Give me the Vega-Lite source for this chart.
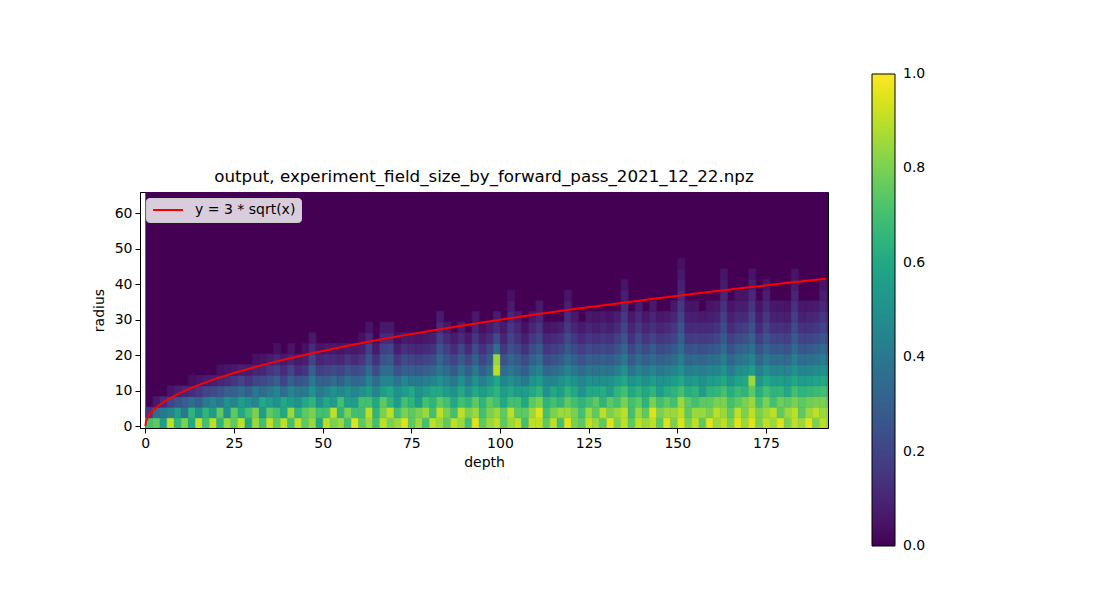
{
  "$schema": "https://vega.github.io/schema/vega-lite/v6.json",
  "width": 688,
  "height": 236,
  "autosize": "none",
  "padding": {"left": 140, "top": 192, "right": 284, "bottom": 185},
  "background": "white",
  "title": {
    "text": "output, experiment_field_size_by_forward_pass_2021_12_22.npz",
    "fontSize": 16.7,
    "fontWeight": "normal",
    "anchor": "middle",
    "baseline": "alphabetic",
    "offset": 8,
    "dy": 133,
    "color": "black"
  },
  "resolve": {"scale": {"stroke": "independent"}},
  "layer": [
    {
      "data": {"values": [{}]},
      "mark": {"type": "rect", "fill": "#440154", "clip": true},
      "encoding": {
        "x": {"datum": 0, "type": "quantitative"},
        "x2": {"datum": 194},
        "y": {"datum": -0.5, "type": "quantitative"},
        "y2": {"datum": 66}
      }
    },
    {
      "data": {"values": [
        {"d":1,"r":1,"v":0.7},{"d":1,"r":4,"v":0.15},
        {"d":3,"r":1,"v":0.75},{"d":3,"r":4,"v":0.35},{"d":3,"r":7,"v":0.06},
        {"d":5,"r":1,"v":0.55},{"d":5,"r":4,"v":0.4},{"d":5,"r":7,"v":0.12},
        {"d":7,"r":1,"v":0.9},{"d":7,"r":4,"v":0.45},{"d":7,"r":7,"v":0.2},{"d":7,"r":10,"v":0.05},
        {"d":9,"r":1,"v":0.65},{"d":9,"r":4,"v":0.55},{"d":9,"r":7,"v":0.25},{"d":9,"r":10,"v":0.08},
        {"d":11,"r":1,"v":0.8},{"d":11,"r":4,"v":0.4},{"d":11,"r":7,"v":0.3},{"d":11,"r":10,"v":0.1},
        {"d":13,"r":1,"v":0.6},{"d":13,"r":4,"v":0.65},{"d":13,"r":7,"v":0.35},{"d":13,"r":10,"v":0.12},{"d":13,"r":13,"v":0.04},
        {"d":15,"r":1,"v":0.9},{"d":15,"r":4,"v":0.5},{"d":15,"r":7,"v":0.3},{"d":15,"r":10,"v":0.15},{"d":15,"r":13,"v":0.05},
        {"d":17,"r":1,"v":0.7},{"d":17,"r":4,"v":0.65},{"d":17,"r":7,"v":0.4},{"d":17,"r":10,"v":0.2},{"d":17,"r":13,"v":0.07},
        {"d":19,"r":1,"v":0.9},{"d":19,"r":4,"v":0.55},{"d":19,"r":7,"v":0.45},{"d":19,"r":10,"v":0.22},{"d":19,"r":13,"v":0.08},
        {"d":21,"r":1,"v":0.65},{"d":21,"r":4,"v":0.75},{"d":21,"r":7,"v":0.4},{"d":21,"r":10,"v":0.25},{"d":21,"r":13,"v":0.1},{"d":21,"r":16,"v":0.04},
        {"d":23,"r":1,"v":0.85},{"d":23,"r":4,"v":0.5},{"d":23,"r":7,"v":0.5},{"d":23,"r":10,"v":0.3},{"d":23,"r":13,"v":0.12},{"d":23,"r":16,"v":0.05},
        {"d":25,"r":1,"v":0.75},{"d":25,"r":4,"v":0.75},{"d":25,"r":7,"v":0.45},{"d":25,"r":10,"v":0.3},{"d":25,"r":13,"v":0.15},{"d":25,"r":16,"v":0.06},
        {"d":27,"r":1,"v":0.9},{"d":27,"r":4,"v":0.6},{"d":27,"r":7,"v":0.55},{"d":27,"r":10,"v":0.35},{"d":27,"r":13,"v":0.2},{"d":27,"r":16,"v":0.08},
        {"d":29,"r":1,"v":0.6},{"d":29,"r":4,"v":0.7},{"d":29,"r":7,"v":0.5},{"d":29,"r":10,"v":0.3},{"d":29,"r":13,"v":0.15},{"d":29,"r":16,"v":0.07},
        {"d":31,"r":1,"v":0.85},{"d":31,"r":4,"v":0.8},{"d":31,"r":7,"v":0.45},{"d":31,"r":10,"v":0.4},{"d":31,"r":13,"v":0.2},{"d":31,"r":16,"v":0.1},{"d":31,"r":19,"v":0.04},
        {"d":33,"r":1,"v":0.7},{"d":33,"r":4,"v":0.55},{"d":33,"r":7,"v":0.6},{"d":33,"r":10,"v":0.35},{"d":33,"r":13,"v":0.22},{"d":33,"r":16,"v":0.1},{"d":33,"r":19,"v":0.05},
        {"d":35,"r":1,"v":0.9},{"d":35,"r":4,"v":0.75},{"d":35,"r":7,"v":0.55},{"d":35,"r":10,"v":0.4},{"d":35,"r":13,"v":0.25},{"d":35,"r":16,"v":0.15},{"d":35,"r":19,"v":0.07},
        {"d":37,"r":1,"v":0.75},{"d":37,"r":4,"v":0.7},{"d":37,"r":7,"v":0.5},{"d":37,"r":10,"v":0.45},{"d":37,"r":13,"v":0.3},{"d":37,"r":16,"v":0.18},{"d":37,"r":19,"v":0.1},{"d":37,"r":22,"v":0.04},
        {"d":39,"r":1,"v":0.9},{"d":39,"r":4,"v":0.6},{"d":39,"r":7,"v":0.6},{"d":39,"r":10,"v":0.35},{"d":39,"r":13,"v":0.2},{"d":39,"r":16,"v":0.12},{"d":39,"r":19,"v":0.06},
        {"d":41,"r":1,"v":0.7},{"d":41,"r":4,"v":0.85},{"d":41,"r":7,"v":0.55},{"d":41,"r":10,"v":0.45},{"d":41,"r":13,"v":0.3},{"d":41,"r":16,"v":0.2},{"d":41,"r":19,"v":0.1},{"d":41,"r":22,"v":0.05},
        {"d":43,"r":1,"v":0.9},{"d":43,"r":4,"v":0.65},{"d":43,"r":7,"v":0.5},{"d":43,"r":10,"v":0.4},{"d":43,"r":13,"v":0.25},{"d":43,"r":16,"v":0.12},{"d":43,"r":19,"v":0.06},
        {"d":45,"r":1,"v":0.75},{"d":45,"r":4,"v":0.75},{"d":45,"r":7,"v":0.6},{"d":45,"r":10,"v":0.4},{"d":45,"r":13,"v":0.28},{"d":45,"r":16,"v":0.15},{"d":45,"r":19,"v":0.08},{"d":45,"r":22,"v":0.04},
        {"d":47,"r":1,"v":0.85},{"d":47,"r":4,"v":0.8},{"d":47,"r":7,"v":0.65},{"d":47,"r":10,"v":0.5},{"d":47,"r":13,"v":0.4},{"d":47,"r":16,"v":0.3},{"d":47,"r":19,"v":0.2},{"d":47,"r":22,"v":0.12},{"d":47,"r":25,"v":0.06},
        {"d":49,"r":1,"v":0.6},{"d":49,"r":4,"v":0.7},{"d":49,"r":7,"v":0.5},{"d":49,"r":10,"v":0.4},{"d":49,"r":13,"v":0.3},{"d":49,"r":16,"v":0.18},{"d":49,"r":19,"v":0.1},{"d":49,"r":22,"v":0.05},
        {"d":51,"r":1,"v":0.9},{"d":51,"r":4,"v":0.7},{"d":51,"r":7,"v":0.6},{"d":51,"r":10,"v":0.45},{"d":51,"r":13,"v":0.3},{"d":51,"r":16,"v":0.2},{"d":51,"r":19,"v":0.12},{"d":51,"r":22,"v":0.06},
        {"d":53,"r":1,"v":0.8},{"d":53,"r":4,"v":0.9},{"d":53,"r":7,"v":0.55},{"d":53,"r":10,"v":0.5},{"d":53,"r":13,"v":0.35},{"d":53,"r":16,"v":0.22},{"d":53,"r":19,"v":0.12},{"d":53,"r":22,"v":0.06},
        {"d":55,"r":1,"v":0.85},{"d":55,"r":4,"v":0.65},{"d":55,"r":7,"v":0.7},{"d":55,"r":10,"v":0.45},{"d":55,"r":13,"v":0.3},{"d":55,"r":16,"v":0.2},{"d":55,"r":19,"v":0.1},{"d":55,"r":22,"v":0.05},
        {"d":57,"r":1,"v":0.7},{"d":57,"r":4,"v":0.8},{"d":57,"r":7,"v":0.55},{"d":57,"r":10,"v":0.5},{"d":57,"r":13,"v":0.38},{"d":57,"r":16,"v":0.25},{"d":57,"r":19,"v":0.15},{"d":57,"r":22,"v":0.07},
        {"d":59,"r":1,"v":0.95},{"d":59,"r":4,"v":0.7},{"d":59,"r":7,"v":0.55},{"d":59,"r":10,"v":0.45},{"d":59,"r":13,"v":0.32},{"d":59,"r":16,"v":0.22},{"d":59,"r":19,"v":0.12},{"d":59,"r":22,"v":0.06},
        {"d":61,"r":1,"v":0.75},{"d":61,"r":4,"v":0.7},{"d":61,"r":7,"v":0.7},{"d":61,"r":10,"v":0.5},{"d":61,"r":13,"v":0.35},{"d":61,"r":16,"v":0.25},{"d":61,"r":19,"v":0.15},{"d":61,"r":22,"v":0.08},{"d":61,"r":25,"v":0.04},
        {"d":63,"r":1,"v":0.85},{"d":63,"r":4,"v":0.9},{"d":63,"r":7,"v":0.7},{"d":63,"r":10,"v":0.55},{"d":63,"r":13,"v":0.45},{"d":63,"r":16,"v":0.35},{"d":63,"r":19,"v":0.25},{"d":63,"r":22,"v":0.18},{"d":63,"r":25,"v":0.1},{"d":63,"r":28,"v":0.05},
        {"d":65,"r":1,"v":0.7},{"d":65,"r":4,"v":0.65},{"d":65,"r":7,"v":0.6},{"d":65,"r":10,"v":0.45},{"d":65,"r":13,"v":0.35},{"d":65,"r":16,"v":0.22},{"d":65,"r":19,"v":0.14},{"d":65,"r":22,"v":0.07},
        {"d":67,"r":1,"v":0.9},{"d":67,"r":4,"v":0.8},{"d":67,"r":7,"v":0.75},{"d":67,"r":10,"v":0.55},{"d":67,"r":13,"v":0.45},{"d":67,"r":16,"v":0.35},{"d":67,"r":19,"v":0.25},{"d":67,"r":22,"v":0.18},{"d":67,"r":25,"v":0.12},{"d":67,"r":28,"v":0.06},
        {"d":69,"r":1,"v":0.8},{"d":69,"r":4,"v":0.9},{"d":69,"r":7,"v":0.65},{"d":69,"r":10,"v":0.6},{"d":69,"r":13,"v":0.45},{"d":69,"r":16,"v":0.35},{"d":69,"r":19,"v":0.28},{"d":69,"r":22,"v":0.2},{"d":69,"r":25,"v":0.12},{"d":69,"r":28,"v":0.06},
        {"d":71,"r":1,"v":0.85},{"d":71,"r":4,"v":0.7},{"d":71,"r":7,"v":0.55},{"d":71,"r":10,"v":0.5},{"d":71,"r":13,"v":0.38},{"d":71,"r":16,"v":0.25},{"d":71,"r":19,"v":0.15},{"d":71,"r":22,"v":0.08},{"d":71,"r":25,"v":0.04},
        {"d":73,"r":1,"v":0.95},{"d":73,"r":4,"v":0.8},{"d":73,"r":7,"v":0.7},{"d":73,"r":10,"v":0.55},{"d":73,"r":13,"v":0.45},{"d":73,"r":16,"v":0.3},{"d":73,"r":19,"v":0.22},{"d":73,"r":22,"v":0.14},{"d":73,"r":25,"v":0.07},
        {"d":75,"r":1,"v":0.75},{"d":75,"r":4,"v":0.75},{"d":75,"r":7,"v":0.65},{"d":75,"r":10,"v":0.6},{"d":75,"r":13,"v":0.4},{"d":75,"r":16,"v":0.3},{"d":75,"r":19,"v":0.2},{"d":75,"r":22,"v":0.12},{"d":75,"r":25,"v":0.06},
        {"d":77,"r":1,"v":0.85},{"d":77,"r":4,"v":0.8},{"d":77,"r":7,"v":0.55},{"d":77,"r":10,"v":0.5},{"d":77,"r":13,"v":0.4},{"d":77,"r":16,"v":0.28},{"d":77,"r":19,"v":0.18},{"d":77,"r":22,"v":0.1},{"d":77,"r":25,"v":0.05},
        {"d":79,"r":1,"v":0.7},{"d":79,"r":4,"v":0.85},{"d":79,"r":7,"v":0.7},{"d":79,"r":10,"v":0.55},{"d":79,"r":13,"v":0.42},{"d":79,"r":16,"v":0.3},{"d":79,"r":19,"v":0.2},{"d":79,"r":22,"v":0.12},{"d":79,"r":25,"v":0.06},
        {"d":81,"r":1,"v":0.9},{"d":81,"r":4,"v":0.7},{"d":81,"r":7,"v":0.65},{"d":81,"r":10,"v":0.6},{"d":81,"r":13,"v":0.45},{"d":81,"r":16,"v":0.32},{"d":81,"r":19,"v":0.22},{"d":81,"r":22,"v":0.14},{"d":81,"r":25,"v":0.08},
        {"d":83,"r":1,"v":0.85},{"d":83,"r":4,"v":0.9},{"d":83,"r":7,"v":0.75},{"d":83,"r":10,"v":0.6},{"d":83,"r":13,"v":0.5},{"d":83,"r":16,"v":0.4},{"d":83,"r":19,"v":0.32},{"d":83,"r":22,"v":0.25},{"d":83,"r":25,"v":0.18},{"d":83,"r":28,"v":0.12},{"d":83,"r":31,"v":0.07},
        {"d":85,"r":1,"v":0.75},{"d":85,"r":4,"v":0.8},{"d":85,"r":7,"v":0.7},{"d":85,"r":10,"v":0.55},{"d":85,"r":13,"v":0.45},{"d":85,"r":16,"v":0.35},{"d":85,"r":19,"v":0.25},{"d":85,"r":22,"v":0.18},{"d":85,"r":25,"v":0.12},{"d":85,"r":28,"v":0.06},
        {"d":87,"r":1,"v":0.9},{"d":87,"r":4,"v":0.7},{"d":87,"r":7,"v":0.6},{"d":87,"r":10,"v":0.5},{"d":87,"r":13,"v":0.4},{"d":87,"r":16,"v":0.28},{"d":87,"r":19,"v":0.2},{"d":87,"r":22,"v":0.12},{"d":87,"r":25,"v":0.07},
        {"d":89,"r":1,"v":0.85},{"d":89,"r":4,"v":0.9},{"d":89,"r":7,"v":0.7},{"d":89,"r":10,"v":0.6},{"d":89,"r":13,"v":0.5},{"d":89,"r":16,"v":0.38},{"d":89,"r":19,"v":0.28},{"d":89,"r":22,"v":0.2},{"d":89,"r":25,"v":0.12},{"d":89,"r":28,"v":0.07},
        {"d":91,"r":1,"v":0.7},{"d":91,"r":4,"v":0.8},{"d":91,"r":7,"v":0.65},{"d":91,"r":10,"v":0.5},{"d":91,"r":13,"v":0.4},{"d":91,"r":16,"v":0.3},{"d":91,"r":19,"v":0.2},{"d":91,"r":22,"v":0.12},{"d":91,"r":25,"v":0.06},
        {"d":93,"r":1,"v":0.95},{"d":93,"r":4,"v":0.85},{"d":93,"r":7,"v":0.75},{"d":93,"r":10,"v":0.6},{"d":93,"r":13,"v":0.5},{"d":93,"r":16,"v":0.4},{"d":93,"r":19,"v":0.3},{"d":93,"r":22,"v":0.22},{"d":93,"r":25,"v":0.15},{"d":93,"r":28,"v":0.1},{"d":93,"r":31,"v":0.06},
        {"d":95,"r":1,"v":0.75},{"d":95,"r":4,"v":0.7},{"d":95,"r":7,"v":0.65},{"d":95,"r":10,"v":0.55},{"d":95,"r":13,"v":0.42},{"d":95,"r":16,"v":0.3},{"d":95,"r":19,"v":0.2},{"d":95,"r":22,"v":0.14},{"d":95,"r":25,"v":0.08},{"d":95,"r":28,"v":0.04},
        {"d":97,"r":1,"v":0.85},{"d":97,"r":4,"v":0.8},{"d":97,"r":7,"v":0.75},{"d":97,"r":10,"v":0.6},{"d":97,"r":13,"v":0.5},{"d":97,"r":16,"v":0.38},{"d":97,"r":19,"v":0.28},{"d":97,"r":22,"v":0.2},{"d":97,"r":25,"v":0.12},{"d":97,"r":28,"v":0.07},
        {"d":99,"r":1,"v":0.9},{"d":99,"r":4,"v":0.85},{"d":99,"r":7,"v":0.7},{"d":99,"r":10,"v":0.65},{"d":99,"r":13,"v":0.6},{"d":99,"r":16,"v":0.9},{"d":99,"r":19,"v":0.85},{"d":99,"r":22,"v":0.35},{"d":99,"r":25,"v":0.22},{"d":99,"r":28,"v":0.12},{"d":99,"r":31,"v":0.07},
        {"d":101,"r":1,"v":0.75},{"d":101,"r":4,"v":0.75},{"d":101,"r":7,"v":0.6},{"d":101,"r":10,"v":0.55},{"d":101,"r":13,"v":0.45},{"d":101,"r":16,"v":0.35},{"d":101,"r":19,"v":0.25},{"d":101,"r":22,"v":0.16},{"d":101,"r":25,"v":0.1},{"d":101,"r":28,"v":0.06},
        {"d":103,"r":1,"v":0.85},{"d":103,"r":4,"v":0.9},{"d":103,"r":7,"v":0.7},{"d":103,"r":10,"v":0.6},{"d":103,"r":13,"v":0.5},{"d":103,"r":16,"v":0.4},{"d":103,"r":19,"v":0.32},{"d":103,"r":22,"v":0.25},{"d":103,"r":25,"v":0.2},{"d":103,"r":28,"v":0.15},{"d":103,"r":31,"v":0.1},{"d":103,"r":34,"v":0.07},{"d":103,"r":37,"v":0.04},
        {"d":105,"r":1,"v":0.9},{"d":105,"r":4,"v":0.75},{"d":105,"r":7,"v":0.7},{"d":105,"r":10,"v":0.55},{"d":105,"r":13,"v":0.45},{"d":105,"r":16,"v":0.35},{"d":105,"r":19,"v":0.28},{"d":105,"r":22,"v":0.2},{"d":105,"r":25,"v":0.14},{"d":105,"r":28,"v":0.1},{"d":105,"r":31,"v":0.06},
        {"d":107,"r":1,"v":0.7},{"d":107,"r":4,"v":0.75},{"d":107,"r":7,"v":0.6},{"d":107,"r":10,"v":0.55},{"d":107,"r":13,"v":0.4},{"d":107,"r":16,"v":0.3},{"d":107,"r":19,"v":0.22},{"d":107,"r":22,"v":0.14},{"d":107,"r":25,"v":0.08},{"d":107,"r":28,"v":0.04},
        {"d":109,"r":1,"v":0.9},{"d":109,"r":4,"v":0.85},{"d":109,"r":7,"v":0.75},{"d":109,"r":10,"v":0.6},{"d":109,"r":13,"v":0.5},{"d":109,"r":16,"v":0.4},{"d":109,"r":19,"v":0.3},{"d":109,"r":22,"v":0.22},{"d":109,"r":25,"v":0.15},{"d":109,"r":28,"v":0.1},{"d":109,"r":31,"v":0.06},
        {"d":111,"r":1,"v":0.9},{"d":111,"r":4,"v":0.95},{"d":111,"r":7,"v":0.8},{"d":111,"r":10,"v":0.65},{"d":111,"r":13,"v":0.55},{"d":111,"r":16,"v":0.45},{"d":111,"r":19,"v":0.35},{"d":111,"r":22,"v":0.28},{"d":111,"r":25,"v":0.2},{"d":111,"r":28,"v":0.15},{"d":111,"r":31,"v":0.1},{"d":111,"r":34,"v":0.06},
        {"d":113,"r":1,"v":0.75},{"d":113,"r":4,"v":0.7},{"d":113,"r":7,"v":0.65},{"d":113,"r":10,"v":0.5},{"d":113,"r":13,"v":0.45},{"d":113,"r":16,"v":0.32},{"d":113,"r":19,"v":0.22},{"d":113,"r":22,"v":0.15},{"d":113,"r":25,"v":0.1},{"d":113,"r":28,"v":0.05},
        {"d":115,"r":1,"v":0.9},{"d":115,"r":4,"v":0.8},{"d":115,"r":7,"v":0.7},{"d":115,"r":10,"v":0.6},{"d":115,"r":13,"v":0.45},{"d":115,"r":16,"v":0.35},{"d":115,"r":19,"v":0.25},{"d":115,"r":22,"v":0.18},{"d":115,"r":25,"v":0.12},{"d":115,"r":28,"v":0.06},
        {"d":117,"r":1,"v":0.7},{"d":117,"r":4,"v":0.85},{"d":117,"r":7,"v":0.65},{"d":117,"r":10,"v":0.55},{"d":117,"r":13,"v":0.5},{"d":117,"r":16,"v":0.38},{"d":117,"r":19,"v":0.28},{"d":117,"r":22,"v":0.2},{"d":117,"r":25,"v":0.14},{"d":117,"r":28,"v":0.08},
        {"d":119,"r":1,"v":0.95},{"d":119,"r":4,"v":0.85},{"d":119,"r":7,"v":0.75},{"d":119,"r":10,"v":0.65},{"d":119,"r":13,"v":0.55},{"d":119,"r":16,"v":0.45},{"d":119,"r":19,"v":0.35},{"d":119,"r":22,"v":0.28},{"d":119,"r":25,"v":0.22},{"d":119,"r":28,"v":0.16},{"d":119,"r":31,"v":0.12},{"d":119,"r":34,"v":0.08},{"d":119,"r":37,"v":0.05},
        {"d":121,"r":1,"v":0.8},{"d":121,"r":4,"v":0.8},{"d":121,"r":7,"v":0.7},{"d":121,"r":10,"v":0.6},{"d":121,"r":13,"v":0.5},{"d":121,"r":16,"v":0.4},{"d":121,"r":19,"v":0.3},{"d":121,"r":22,"v":0.22},{"d":121,"r":25,"v":0.16},{"d":121,"r":28,"v":0.1},{"d":121,"r":31,"v":0.06},
        {"d":123,"r":1,"v":0.75},{"d":123,"r":4,"v":0.7},{"d":123,"r":7,"v":0.65},{"d":123,"r":10,"v":0.5},{"d":123,"r":13,"v":0.45},{"d":123,"r":16,"v":0.35},{"d":123,"r":19,"v":0.25},{"d":123,"r":22,"v":0.18},{"d":123,"r":25,"v":0.12},{"d":123,"r":28,"v":0.07},
        {"d":125,"r":1,"v":0.9},{"d":125,"r":4,"v":0.85},{"d":125,"r":7,"v":0.7},{"d":125,"r":10,"v":0.6},{"d":125,"r":13,"v":0.5},{"d":125,"r":16,"v":0.4},{"d":125,"r":19,"v":0.3},{"d":125,"r":22,"v":0.22},{"d":125,"r":25,"v":0.15},{"d":125,"r":28,"v":0.1},{"d":125,"r":31,"v":0.06},
        {"d":127,"r":1,"v":0.85},{"d":127,"r":4,"v":0.75},{"d":127,"r":7,"v":0.75},{"d":127,"r":10,"v":0.6},{"d":127,"r":13,"v":0.48},{"d":127,"r":16,"v":0.38},{"d":127,"r":19,"v":0.28},{"d":127,"r":22,"v":0.2},{"d":127,"r":25,"v":0.14},{"d":127,"r":28,"v":0.08},{"d":127,"r":31,"v":0.05},
        {"d":129,"r":1,"v":0.75},{"d":129,"r":4,"v":0.9},{"d":129,"r":7,"v":0.65},{"d":129,"r":10,"v":0.62},{"d":129,"r":13,"v":0.5},{"d":129,"r":16,"v":0.4},{"d":129,"r":19,"v":0.3},{"d":129,"r":22,"v":0.22},{"d":129,"r":25,"v":0.15},{"d":129,"r":28,"v":0.1},{"d":129,"r":31,"v":0.06},
        {"d":131,"r":1,"v":0.95},{"d":131,"r":4,"v":0.8},{"d":131,"r":7,"v":0.75},{"d":131,"r":10,"v":0.55},{"d":131,"r":13,"v":0.5},{"d":131,"r":16,"v":0.38},{"d":131,"r":19,"v":0.28},{"d":131,"r":22,"v":0.2},{"d":131,"r":25,"v":0.14},{"d":131,"r":28,"v":0.08},{"d":131,"r":31,"v":0.05},
        {"d":133,"r":1,"v":0.8},{"d":133,"r":4,"v":0.85},{"d":133,"r":7,"v":0.7},{"d":133,"r":10,"v":0.65},{"d":133,"r":13,"v":0.55},{"d":133,"r":16,"v":0.42},{"d":133,"r":19,"v":0.32},{"d":133,"r":22,"v":0.25},{"d":133,"r":25,"v":0.18},{"d":133,"r":28,"v":0.12},{"d":133,"r":31,"v":0.08},
        {"d":135,"r":1,"v":0.9},{"d":135,"r":4,"v":0.9},{"d":135,"r":7,"v":0.8},{"d":135,"r":10,"v":0.7},{"d":135,"r":13,"v":0.6},{"d":135,"r":16,"v":0.5},{"d":135,"r":19,"v":0.4},{"d":135,"r":22,"v":0.32},{"d":135,"r":25,"v":0.25},{"d":135,"r":28,"v":0.2},{"d":135,"r":31,"v":0.16},{"d":135,"r":34,"v":0.12},{"d":135,"r":37,"v":0.08},{"d":135,"r":40,"v":0.05},
        {"d":137,"r":1,"v":0.75},{"d":137,"r":4,"v":0.7},{"d":137,"r":7,"v":0.7},{"d":137,"r":10,"v":0.6},{"d":137,"r":13,"v":0.5},{"d":137,"r":16,"v":0.38},{"d":137,"r":19,"v":0.28},{"d":137,"r":22,"v":0.2},{"d":137,"r":25,"v":0.14},{"d":137,"r":28,"v":0.1},{"d":137,"r":31,"v":0.06},
        {"d":139,"r":1,"v":0.9},{"d":139,"r":4,"v":0.85},{"d":139,"r":7,"v":0.75},{"d":139,"r":10,"v":0.65},{"d":139,"r":13,"v":0.55},{"d":139,"r":16,"v":0.45},{"d":139,"r":19,"v":0.35},{"d":139,"r":22,"v":0.28},{"d":139,"r":25,"v":0.22},{"d":139,"r":28,"v":0.16},{"d":139,"r":31,"v":0.12},{"d":139,"r":34,"v":0.07},
        {"d":141,"r":1,"v":0.85},{"d":141,"r":4,"v":0.75},{"d":141,"r":7,"v":0.65},{"d":141,"r":10,"v":0.6},{"d":141,"r":13,"v":0.5},{"d":141,"r":16,"v":0.4},{"d":141,"r":19,"v":0.3},{"d":141,"r":22,"v":0.22},{"d":141,"r":25,"v":0.15},{"d":141,"r":28,"v":0.1},{"d":141,"r":31,"v":0.06},
        {"d":143,"r":1,"v":0.9},{"d":143,"r":4,"v":0.95},{"d":143,"r":7,"v":0.8},{"d":143,"r":10,"v":0.65},{"d":143,"r":13,"v":0.55},{"d":143,"r":16,"v":0.45},{"d":143,"r":19,"v":0.35},{"d":143,"r":22,"v":0.28},{"d":143,"r":25,"v":0.2},{"d":143,"r":28,"v":0.14},{"d":143,"r":31,"v":0.1},{"d":143,"r":34,"v":0.06},
        {"d":145,"r":1,"v":0.75},{"d":145,"r":4,"v":0.8},{"d":145,"r":7,"v":0.7},{"d":145,"r":10,"v":0.55},{"d":145,"r":13,"v":0.5},{"d":145,"r":16,"v":0.4},{"d":145,"r":19,"v":0.3},{"d":145,"r":22,"v":0.22},{"d":145,"r":25,"v":0.15},{"d":145,"r":28,"v":0.1},{"d":145,"r":31,"v":0.06},
        {"d":147,"r":1,"v":0.95},{"d":147,"r":4,"v":0.85},{"d":147,"r":7,"v":0.75},{"d":147,"r":10,"v":0.62},{"d":147,"r":13,"v":0.52},{"d":147,"r":16,"v":0.42},{"d":147,"r":19,"v":0.32},{"d":147,"r":22,"v":0.24},{"d":147,"r":25,"v":0.17},{"d":147,"r":28,"v":0.12},{"d":147,"r":31,"v":0.07},
        {"d":149,"r":1,"v":0.8},{"d":149,"r":4,"v":0.85},{"d":149,"r":7,"v":0.7},{"d":149,"r":10,"v":0.65},{"d":149,"r":13,"v":0.55},{"d":149,"r":16,"v":0.45},{"d":149,"r":19,"v":0.35},{"d":149,"r":22,"v":0.28},{"d":149,"r":25,"v":0.2},{"d":149,"r":28,"v":0.15},{"d":149,"r":31,"v":0.1},{"d":149,"r":34,"v":0.06},
        {"d":151,"r":1,"v":0.95},{"d":151,"r":4,"v":0.9},{"d":151,"r":7,"v":0.85},{"d":151,"r":10,"v":0.7},{"d":151,"r":13,"v":0.6},{"d":151,"r":16,"v":0.5},{"d":151,"r":19,"v":0.42},{"d":151,"r":22,"v":0.35},{"d":151,"r":25,"v":0.3},{"d":151,"r":28,"v":0.25},{"d":151,"r":31,"v":0.2},{"d":151,"r":34,"v":0.16},{"d":151,"r":37,"v":0.12},{"d":151,"r":40,"v":0.09},{"d":151,"r":43,"v":0.06},{"d":151,"r":46,"v":0.04},
        {"d":153,"r":1,"v":0.8},{"d":153,"r":4,"v":0.75},{"d":153,"r":7,"v":0.75},{"d":153,"r":10,"v":0.62},{"d":153,"r":13,"v":0.52},{"d":153,"r":16,"v":0.42},{"d":153,"r":19,"v":0.32},{"d":153,"r":22,"v":0.24},{"d":153,"r":25,"v":0.17},{"d":153,"r":28,"v":0.12},{"d":153,"r":31,"v":0.08},{"d":153,"r":34,"v":0.05},
        {"d":155,"r":1,"v":0.9},{"d":155,"r":4,"v":0.85},{"d":155,"r":7,"v":0.7},{"d":155,"r":10,"v":0.65},{"d":155,"r":13,"v":0.55},{"d":155,"r":16,"v":0.44},{"d":155,"r":19,"v":0.34},{"d":155,"r":22,"v":0.26},{"d":155,"r":25,"v":0.18},{"d":155,"r":28,"v":0.12},{"d":155,"r":31,"v":0.08},{"d":155,"r":34,"v":0.05},
        {"d":157,"r":1,"v":0.75},{"d":157,"r":4,"v":0.85},{"d":157,"r":7,"v":0.75},{"d":157,"r":10,"v":0.55},{"d":157,"r":13,"v":0.5},{"d":157,"r":16,"v":0.42},{"d":157,"r":19,"v":0.32},{"d":157,"r":22,"v":0.24},{"d":157,"r":25,"v":0.17},{"d":157,"r":28,"v":0.12},{"d":157,"r":31,"v":0.07},
        {"d":159,"r":1,"v":0.95},{"d":159,"r":4,"v":0.8},{"d":159,"r":7,"v":0.75},{"d":159,"r":10,"v":0.65},{"d":159,"r":13,"v":0.55},{"d":159,"r":16,"v":0.45},{"d":159,"r":19,"v":0.35},{"d":159,"r":22,"v":0.26},{"d":159,"r":25,"v":0.18},{"d":159,"r":28,"v":0.12},{"d":159,"r":31,"v":0.08},{"d":159,"r":34,"v":0.05},
        {"d":161,"r":1,"v":0.85},{"d":161,"r":4,"v":0.9},{"d":161,"r":7,"v":0.8},{"d":161,"r":10,"v":0.66},{"d":161,"r":13,"v":0.56},{"d":161,"r":16,"v":0.46},{"d":161,"r":19,"v":0.36},{"d":161,"r":22,"v":0.28},{"d":161,"r":25,"v":0.2},{"d":161,"r":28,"v":0.14},{"d":161,"r":31,"v":0.09},{"d":161,"r":34,"v":0.06},
        {"d":163,"r":1,"v":0.9},{"d":163,"r":4,"v":0.85},{"d":163,"r":7,"v":0.8},{"d":163,"r":10,"v":0.7},{"d":163,"r":13,"v":0.6},{"d":163,"r":16,"v":0.5},{"d":163,"r":19,"v":0.42},{"d":163,"r":22,"v":0.34},{"d":163,"r":25,"v":0.28},{"d":163,"r":28,"v":0.22},{"d":163,"r":31,"v":0.18},{"d":163,"r":34,"v":0.14},{"d":163,"r":37,"v":0.1},{"d":163,"r":40,"v":0.07},{"d":163,"r":43,"v":0.05},
        {"d":165,"r":1,"v":0.8},{"d":165,"r":4,"v":0.75},{"d":165,"r":7,"v":0.7},{"d":165,"r":10,"v":0.62},{"d":165,"r":13,"v":0.52},{"d":165,"r":16,"v":0.42},{"d":165,"r":19,"v":0.32},{"d":165,"r":22,"v":0.24},{"d":165,"r":25,"v":0.18},{"d":165,"r":28,"v":0.12},{"d":165,"r":31,"v":0.08},{"d":165,"r":34,"v":0.05},
        {"d":167,"r":1,"v":0.95},{"d":167,"r":4,"v":0.9},{"d":167,"r":7,"v":0.75},{"d":167,"r":10,"v":0.68},{"d":167,"r":13,"v":0.58},{"d":167,"r":16,"v":0.48},{"d":167,"r":19,"v":0.38},{"d":167,"r":22,"v":0.3},{"d":167,"r":25,"v":0.22},{"d":167,"r":28,"v":0.16},{"d":167,"r":31,"v":0.12},{"d":167,"r":34,"v":0.08},{"d":167,"r":37,"v":0.05},
        {"d":169,"r":1,"v":0.85},{"d":169,"r":4,"v":0.8},{"d":169,"r":7,"v":0.8},{"d":169,"r":10,"v":0.65},{"d":169,"r":13,"v":0.6},{"d":169,"r":16,"v":0.5},{"d":169,"r":19,"v":0.4},{"d":169,"r":22,"v":0.32},{"d":169,"r":25,"v":0.24},{"d":169,"r":28,"v":0.18},{"d":169,"r":31,"v":0.12},{"d":169,"r":34,"v":0.08},{"d":169,"r":37,"v":0.05},
        {"d":171,"r":1,"v":0.95},{"d":171,"r":4,"v":0.9},{"d":171,"r":7,"v":0.85},{"d":171,"r":10,"v":0.75},{"d":171,"r":13,"v":0.85},{"d":171,"r":16,"v":0.55},{"d":171,"r":19,"v":0.45},{"d":171,"r":22,"v":0.36},{"d":171,"r":25,"v":0.3},{"d":171,"r":28,"v":0.24},{"d":171,"r":31,"v":0.2},{"d":171,"r":34,"v":0.15},{"d":171,"r":37,"v":0.11},{"d":171,"r":40,"v":0.08},{"d":171,"r":43,"v":0.05},
        {"d":173,"r":1,"v":0.8},{"d":173,"r":4,"v":0.8},{"d":173,"r":7,"v":0.7},{"d":173,"r":10,"v":0.62},{"d":173,"r":13,"v":0.52},{"d":173,"r":16,"v":0.42},{"d":173,"r":19,"v":0.32},{"d":173,"r":22,"v":0.25},{"d":173,"r":25,"v":0.18},{"d":173,"r":28,"v":0.12},{"d":173,"r":31,"v":0.08},{"d":173,"r":34,"v":0.05},
        {"d":175,"r":1,"v":0.9},{"d":175,"r":4,"v":0.85},{"d":175,"r":7,"v":0.8},{"d":175,"r":10,"v":0.7},{"d":175,"r":13,"v":0.6},{"d":175,"r":16,"v":0.5},{"d":175,"r":19,"v":0.4},{"d":175,"r":22,"v":0.32},{"d":175,"r":25,"v":0.26},{"d":175,"r":28,"v":0.2},{"d":175,"r":31,"v":0.16},{"d":175,"r":34,"v":0.12},{"d":175,"r":37,"v":0.08},{"d":175,"r":40,"v":0.05},
        {"d":177,"r":1,"v":0.85},{"d":177,"r":4,"v":0.9},{"d":177,"r":7,"v":0.7},{"d":177,"r":10,"v":0.65},{"d":177,"r":13,"v":0.55},{"d":177,"r":16,"v":0.45},{"d":177,"r":19,"v":0.35},{"d":177,"r":22,"v":0.27},{"d":177,"r":25,"v":0.2},{"d":177,"r":28,"v":0.14},{"d":177,"r":31,"v":0.09},{"d":177,"r":34,"v":0.06},
        {"d":179,"r":1,"v":0.95},{"d":179,"r":4,"v":0.75},{"d":179,"r":7,"v":0.78},{"d":179,"r":10,"v":0.66},{"d":179,"r":13,"v":0.56},{"d":179,"r":16,"v":0.46},{"d":179,"r":19,"v":0.36},{"d":179,"r":22,"v":0.28},{"d":179,"r":25,"v":0.2},{"d":179,"r":28,"v":0.14},{"d":179,"r":31,"v":0.09},{"d":179,"r":34,"v":0.06},
        {"d":181,"r":1,"v":0.8},{"d":181,"r":4,"v":0.85},{"d":181,"r":7,"v":0.75},{"d":181,"r":10,"v":0.6},{"d":181,"r":13,"v":0.54},{"d":181,"r":16,"v":0.44},{"d":181,"r":19,"v":0.34},{"d":181,"r":22,"v":0.26},{"d":181,"r":25,"v":0.19},{"d":181,"r":28,"v":0.13},{"d":181,"r":31,"v":0.08},{"d":181,"r":34,"v":0.05},
        {"d":183,"r":1,"v":0.9},{"d":183,"r":4,"v":0.9},{"d":183,"r":7,"v":0.8},{"d":183,"r":10,"v":0.7},{"d":183,"r":13,"v":0.6},{"d":183,"r":16,"v":0.5},{"d":183,"r":19,"v":0.42},{"d":183,"r":22,"v":0.34},{"d":183,"r":25,"v":0.28},{"d":183,"r":28,"v":0.22},{"d":183,"r":31,"v":0.18},{"d":183,"r":34,"v":0.14},{"d":183,"r":37,"v":0.1},{"d":183,"r":40,"v":0.07},{"d":183,"r":43,"v":0.05},
        {"d":185,"r":1,"v":0.85},{"d":185,"r":4,"v":0.75},{"d":185,"r":7,"v":0.75},{"d":185,"r":10,"v":0.65},{"d":185,"r":13,"v":0.55},{"d":185,"r":16,"v":0.45},{"d":185,"r":19,"v":0.35},{"d":185,"r":22,"v":0.27},{"d":185,"r":25,"v":0.2},{"d":185,"r":28,"v":0.14},{"d":185,"r":31,"v":0.09},{"d":185,"r":34,"v":0.06},
        {"d":187,"r":1,"v":0.95},{"d":187,"r":4,"v":0.85},{"d":187,"r":7,"v":0.78},{"d":187,"r":10,"v":0.66},{"d":187,"r":13,"v":0.56},{"d":187,"r":16,"v":0.46},{"d":187,"r":19,"v":0.36},{"d":187,"r":22,"v":0.28},{"d":187,"r":25,"v":0.2},{"d":187,"r":28,"v":0.14},{"d":187,"r":31,"v":0.1},{"d":187,"r":34,"v":0.06},
        {"d":189,"r":1,"v":0.8},{"d":189,"r":4,"v":0.9},{"d":189,"r":7,"v":0.8},{"d":189,"r":10,"v":0.68},{"d":189,"r":13,"v":0.58},{"d":189,"r":16,"v":0.48},{"d":189,"r":19,"v":0.38},{"d":189,"r":22,"v":0.3},{"d":189,"r":25,"v":0.22},{"d":189,"r":28,"v":0.16},{"d":189,"r":31,"v":0.11},{"d":189,"r":34,"v":0.07},
        {"d":191,"r":1,"v":0.9},{"d":191,"r":4,"v":0.85},{"d":191,"r":7,"v":0.8},{"d":191,"r":10,"v":0.7},{"d":191,"r":13,"v":0.6},{"d":191,"r":16,"v":0.5},{"d":191,"r":19,"v":0.42},{"d":191,"r":22,"v":0.34},{"d":191,"r":25,"v":0.27},{"d":191,"r":28,"v":0.2},{"d":191,"r":31,"v":0.15},{"d":191,"r":34,"v":0.11},{"d":191,"r":37,"v":0.08},{"d":191,"r":40,"v":0.05},
        {"d":193,"r":1,"v":0.85},{"d":193,"r":4,"v":0.85},{"d":193,"r":7,"v":0.75},{"d":193,"r":10,"v":0.65},{"d":193,"r":13,"v":0.55},{"d":193,"r":16,"v":0.45},{"d":193,"r":19,"v":0.35},{"d":193,"r":22,"v":0.27},{"d":193,"r":25,"v":0.2},{"d":193,"r":28,"v":0.14},{"d":193,"r":31,"v":0.09},{"d":193,"r":34,"v":0.06}
      ]},
      "mark": {"type": "rect", "clip": true, "strokeWidth": 0.6},
      "encoding": {
        "x": {
          "field": "d",
          "type": "quantitative",
          "bin": {"step": 2, "extent": [0, 194], "nice": false},
          "scale": {"domain": [-1.5, 192.5], "nice": false, "zero": false},
          "axis": {"values": [0, 25, 50, 75, 100, 125, 150, 175], "format": "d", "titlePadding": 5},
          "title": "depth"
        },
        "y": {
          "field": "r",
          "type": "quantitative",
          "bin": {"step": 3, "extent": [-0.5, 65.5], "nice": false},
          "scale": {"domain": [-0.5, 66], "nice": false, "zero": false},
          "axis": {"values": [0, 10, 20, 30, 40, 50, 60], "format": "d", "titlePadding": 8},
          "title": "radius"
        },
        "color": {
          "field": "v",
          "type": "quantitative",
          "scale": {"scheme": "viridis", "domain": [0, 1]},
          "legend": {
            "orient": "none",
            "legendX": 732,
            "legendY": -118,
            "direction": "vertical",
            "title": null,
            "padding": 0,
            "gradientLength": 472,
            "gradientThickness": 23,
            "gradientStrokeColor": "black",
            "gradientStrokeWidth": 1,
            "values": [0, 0.2, 0.4, 0.6, 0.8, 1],
            "format": ".1f",
            "labelFontSize": 14,
            "labelOffset": 8,
            "labelColor": "black",
            "encode": {"labels": {"update": {"baseline": {"value": "middle"}}}}
          }
        },
        "stroke": {
          "field": "v",
          "type": "quantitative",
          "scale": {"scheme": "viridis", "domain": [0, 1]},
          "legend": null
        }
      }
    },
    {
      "data": {"values": [
        {"x":0,"y":0},{"x":0.25,"y":1.5},{"x":1,"y":3},{"x":2,"y":4.24},{"x":3,"y":5.2},{"x":4,"y":6},
        {"x":6,"y":7.35},{"x":9,"y":9},{"x":12,"y":10.39},{"x":16,"y":12},{"x":20,"y":13.42},{"x":25,"y":15},
        {"x":30,"y":16.43},{"x":36,"y":18},{"x":42,"y":19.44},{"x":49,"y":21},{"x":56,"y":22.45},{"x":64,"y":24},
        {"x":72,"y":25.46},{"x":81,"y":27},{"x":90,"y":28.46},{"x":100,"y":30},{"x":110,"y":31.46},{"x":121,"y":33},
        {"x":132,"y":34.47},{"x":144,"y":36},{"x":156,"y":37.47},{"x":169,"y":39},{"x":182,"y":40.47},{"x":192,"y":41.57}
      ]},
      "mark": {"type": "line", "strokeWidth": 2, "clip": true},
      "encoding": {
        "x": {"field": "x", "type": "quantitative"},
        "y": {"field": "y", "type": "quantitative"},
        "stroke": {
          "datum": "y = 3 * sqrt(x)",
          "type": "nominal",
          "scale": {"range": ["#ff0000"]},
          "legend": {
            "orient": "none",
            "legendX": 6,
            "legendY": 6,
            "title": null,
            "symbolType": "M-1,0H5",
            "symbolSize": 100,
            "symbolStrokeWidth": 2,
            "labelFontSize": 14,
            "labelColor": "black",
            "labelOffset": 30,
            "padding": 5,
            "fillColor": "rgba(255,255,255,0.8)",
            "strokeColor": "#cccccc",
            "cornerRadius": 3
          }
        }
      }
    }
  ],
  "config": {
    "font": "DejaVu Sans",
    "view": {"stroke": "black", "strokeWidth": 1, "fill": "white"},
    "axis": {
      "labelFontSize": 14,
      "titleFontSize": 14,
      "titleFontWeight": "normal",
      "labelColor": "black",
      "titleColor": "black",
      "domainColor": "black",
      "tickColor": "black",
      "tickSize": 5,
      "labelPadding": 3,
      "grid": false
    },
    "legend": {"labelFont": "DejaVu Sans"}
  }
}
